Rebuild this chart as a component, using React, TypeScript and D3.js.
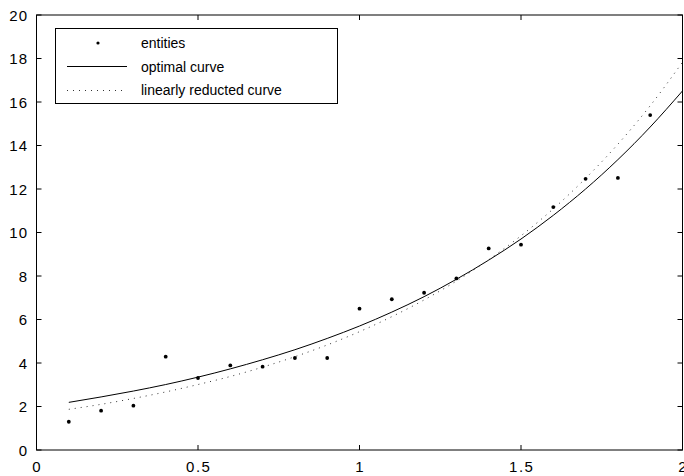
import React from "react";
import * as d3 from "d3";

const entityX = [0.1, 0.2, 0.3, 0.4, 0.5, 0.6, 0.7, 0.8, 0.9, 1.0, 1.1, 1.2, 1.3, 1.4, 1.5, 1.6, 1.7, 1.8, 1.9];
const entityY = [1.3, 1.81, 2.04, 4.29, 3.31, 3.89, 3.83, 4.23, 4.23, 6.5, 6.93, 7.23, 7.89, 9.27, 9.44, 11.17, 12.47, 12.51, 15.4];

const curveX = [0.1, 0.2, 0.3, 0.4, 0.5, 0.6, 0.7, 0.8, 0.9, 1.0, 1.1, 1.2, 1.3, 1.4, 1.5, 1.6, 1.7, 1.8, 1.9, 2.0];
const optimalY = [2.19, 2.44, 2.71, 3.01, 3.35, 3.73, 4.15, 4.61, 5.13, 5.7, 6.34, 7.05, 7.85, 8.73, 9.7, 10.79, 12.0, 13.35, 14.85, 16.51];
const reducedY = [1.87, 2.1, 2.37, 2.67, 3.01, 3.38, 3.81, 4.29, 4.83, 5.44, 6.13, 6.9, 7.77, 8.75, 9.85, 11.09, 12.49, 14.06, 15.83, 17.83];

const xTicks = [0, 0.5, 1, 1.5, 2];
const xTickLabels = ["0", "0.5", "1", "1.5", "2"];
const yTicks = [0, 2, 4, 6, 8, 10, 12, 14, 16, 18, 20];

const legendLabels = ["entities", "optimal curve", "linearly reducted curve"];

export default function App() {
  const W = 684, H = 476;
  const x = d3.scaleLinear().domain([0, 2]).range([36.5, 682.5]);
  const y = d3.scaleLinear().domain([0, 20]).range([450, 15]);
  const line = d3
    .line<number>()
    .x((_, i) => x(curveX[i]))
    .y((d) => y(d))
    .curve(d3.curveMonotoneX);
  const font = "'Liberation Sans', Arial, Helvetica, sans-serif";
  const L = x(0), R = x(2), T = y(20), B = y(0);
  const tl = 5;
  return (
    <svg width={W} height={H} style={{ position: "absolute", left: 0, top: 0, background: "#fff" }}>
      <rect x={0} y={0} width={W} height={H} fill="#fff" />
      <rect x={L} y={T} width={R - L} height={B - T} fill="none" stroke="#000" strokeWidth={1} />
      {xTicks.map((t, i) => {
        const ls = 1.5;
        return (
          <g key={"xt" + i}>
            <line x1={x(t)} x2={x(t)} y1={B} y2={B - tl} stroke="#000" />
            <line x1={x(t)} x2={x(t)} y1={T} y2={T + tl} stroke="#000" />
            <text
              x={x(t) + ls / 2}
              y={472}
              textAnchor="middle"
              fontFamily={font}
              fontSize={15}
              letterSpacing={ls}
              fill="#000"
            >
              {xTickLabels[i]}
            </text>
          </g>
        );
      })}
      {yTicks.map((t, i) => (
        <g key={"yt" + i}>
          <line x1={L} x2={L + tl} y1={y(t)} y2={y(t)} stroke="#000" />
          <line x1={R} x2={R - tl} y1={y(t)} y2={y(t)} stroke="#000" />
          <text x={28} y={y(t) + 5.5} textAnchor="end" fontFamily={font} fontSize={15} letterSpacing={1} fill="#000">
            {String(t)}
          </text>
        </g>
      ))}
      <path d={line(optimalY) || ""} fill="none" stroke="#000" strokeWidth={1} />
      <path d={line(reducedY) || ""} fill="none" stroke="#333" strokeWidth={1} strokeDasharray="1,5" />
      {entityY.map((v, i) => (
        <circle key={"p" + i} cx={x(entityX[i])} cy={y(v)} r={1.9} fill="#000" />
      ))}
      <rect x={55.5} y={28.5} width={282} height={75} fill="#fff" stroke="#000" strokeWidth={1} />
      <circle cx={98} cy={43} r={1.6} fill="#000" />
      <line x1={67} x2={127} y1={66.5} y2={66.5} stroke="#000" strokeWidth={1} />
      <line x1={67} x2={127} y1={90.5} y2={90.5} stroke="#333" strokeWidth={1} strokeDasharray="1,5" />
      {legendLabels.map((s, i) => (
        <text key={"l" + i} x={141} y={48 + i * 23.5} fontFamily={font} fontSize={14} fill="#000">
          {s}
        </text>
      ))}
    </svg>
  );
}
